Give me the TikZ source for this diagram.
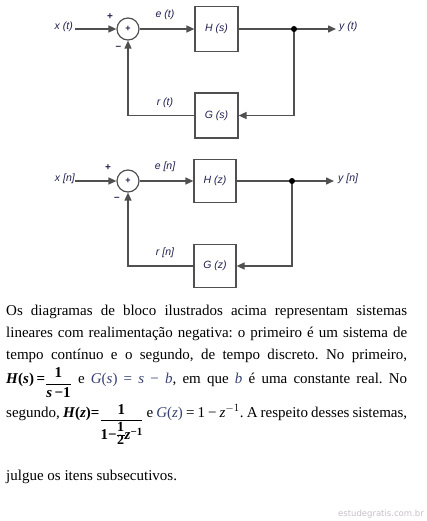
\documentclass[tikz,border=0pt]{standalone}
\usepackage{amsmath}
\usepackage{fontspec}
\setmainfont{Liberation Serif}
\newfontfamily\diafont{Liberation Sans}
\newfontfamily\wmfont{DejaVu Sans}
\usetikzlibrary{arrows.meta}
\definecolor{ln}{RGB}{80,80,80}
\definecolor{lbl}{RGB}{30,30,80}
\definecolor{gc}{RGB}{55,65,115}
\definecolor{wm}{RGB}{200,190,200}
\newcommand{\halfb}{{\fontsize{14}{13}\selectfont\bfseries\setlength{\tabcolsep}{0.5pt}\begin{tabular}{c}1\\[-1pt]\hline\rule{0pt}{10pt}2\end{tabular}}}
\begin{document}
\frenchspacing
\begin{tikzpicture}[x=1pt,y=-1pt,
  wire/.style={draw=ln, line width=1.5pt},
  arr/.style={wire,-{Triangle[length=8pt,width=7pt]}},
  blk/.style={draw=ln,line width=1.2pt,minimum width=43pt,minimum height=45pt,inner sep=0pt,font=\diafont\itshape\fontsize{10.5}{12}\selectfont,text=lbl},
  sumc/.style={circle,draw=ln,line width=1.2pt,minimum size=22pt,inner sep=0pt,font=\diafont\bfseries\fontsize{9}{9}\selectfont,text=lbl},
  lab/.style={font=\diafont\itshape\fontsize{10.5}{12}\selectfont,text=lbl,inner sep=0pt},
  sgn/.style={font=\diafont\bfseries\fontsize{10}{11}\selectfont,text=lbl,inner sep=0pt},
  dot/.style={circle,fill=black,minimum size=6pt,inner sep=0pt},
  para/.style={anchor=base west,inner sep=0pt,font=\fontsize{15}{22}\selectfont}
]
\useasboundingbox (0,0) rectangle (426,521);
% ---------- diagram 1 ----------
\node[sumc] (s1) at (128,29) {+};
\node[blk] (h1) at (216.5,29) {H (s)};
\node[blk] (g1) at (216.5,115.5) {G (s)};
\coordinate (j1) at (294,29);
\coordinate (i1) at (75,29);
\coordinate (o1) at (336,29);
\coordinate (c1) at (294,115.5);
\coordinate (k1) at (128,115.5);
\node[lab,anchor=east] (xl1) at (73,27) {x (t)};
\node[lab,anchor=west] (yl1) at (339,27) {y (t)};
\node[lab] (el1) at (165,15) {e (t)};
\node[lab] (rl1) at (165,103) {r (t)};
\node[sgn] (p1) at (110,17) {+};
\node[sgn] (m1) at (118.5,48) {\textendash};
\draw[arr] (i1) -- (s1);
\draw[arr] (s1) -- (h1);
\draw[wire] (h1) -- (j1);
\draw[arr] (j1) -- (o1);
\draw[arr] (j1) -- (c1) -- (g1);
\draw[arr] (g1) -- (k1) -- (s1);
\node[dot] (d1) at (j1) {};
% ---------- diagram 2 ----------
\node[sumc] (s2) at (128,181) {+};
\node[blk,minimum width=42pt,minimum height=43pt] (h2) at (215,181) {H (z)};
\node[blk,minimum width=42pt,minimum height=43pt] (g2) at (215,266) {G (z)};
\coordinate (j2) at (292,181);
\coordinate (i2) at (75,181);
\coordinate (o2) at (334,181);
\coordinate (c2) at (292,266);
\coordinate (k2) at (128,266);
\node[lab,anchor=east] (xl2) at (75,179) {x [n]};
\node[lab,anchor=west] (yl2) at (338,179) {y [n]};
\node[lab] (el2) at (165,167) {e [n]};
\node[lab] (rl2) at (165,253) {r [n]};
\node[sgn] (p2) at (108,168) {+};
\node[sgn] (m2) at (117,199) {\textendash};
\draw[arr] (i2) -- (s2);
\draw[arr] (s2) -- (h2);
\draw[wire] (h2) -- (j2);
\draw[arr] (j2) -- (o2);
\draw[arr] (j2) -- (c2) -- (g2);
\draw[arr] (g2) -- (k2) -- (s2);
\node[dot] (d2) at (j2) {};
% ---------- text ----------
\node[para] (t1) at (6,315) {\hbox to 401pt{Os diagramas de bloco ilustrados acima representam sistemas}};
\node[para] (t2) at (6,337) {\hbox to 401pt{lineares com realimentação negativa: o primeiro é um sistema de}};
\node[para] (t3) at (6,359) {\hbox to 401pt{tempo contínuo e o segundo, de tempo discreto. No primeiro,}};
\node[para] (t4) at (6,383) {\hbox to 401pt{\textbf{\textit{H}(\textit{s})}\,{\bfseries=}\raisebox{-4.5pt}{$\dfrac{\textbf{1}}{\textbf{\textit{s}}\,\textbf{−1}}$} e \textcolor{gc}{\textit{G}(\textit{s}) = \textit{s} − \textit{b}}, em que \textcolor{gc}{\textit{b}} é uma constante real. No}};
\node[para] (t5) at (6,417) {\hbox to 401pt{segundo, \textbf{\textit{H}(\textit{z})}{\bfseries=}\raisebox{-7pt}{$\dfrac{\textbf{1}}{\mbox{\textbf{1−}\halfb\textbf{\textit{z}}\raisebox{4pt}{\fontsize{11}{11}\selectfont\textbf{−1}}}}$} e \textcolor{gc}{\textit{G}(\textit{z})} = 1 − \textit{z}$^{-1}$. A respeito desses sistemas,}};
\node[para] (t6) at (6,480) {julgue os itens subsecutivos.};
\node[anchor=base east,inner sep=0pt,font=\wmfont\fontsize{8.5}{10}\selectfont,text=wm] (wm) at (424,516) {estudegratis.com.br};
\end{tikzpicture}
\end{document}
